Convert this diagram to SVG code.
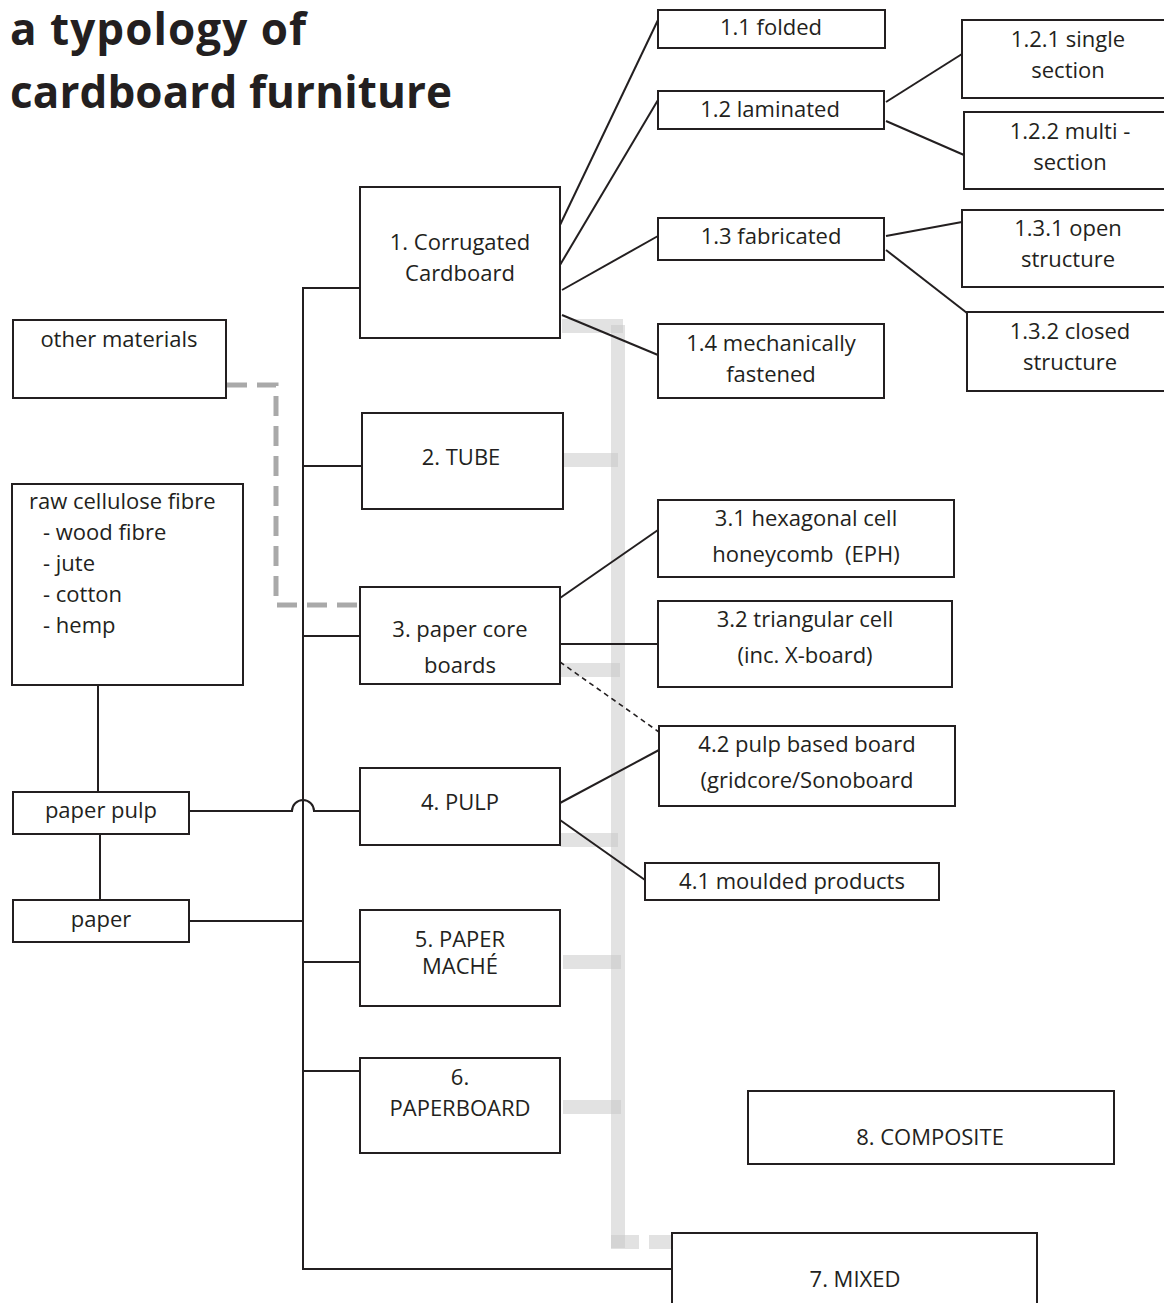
<svg xmlns="http://www.w3.org/2000/svg" width="1164" height="1303" viewBox="0 0 1164 1303">
<style>
  .box { fill: #fff; stroke: #231f20; stroke-width: 2; }
  .t { font-family: "Open Sans", "Liberation Sans", sans-serif; font-size: 22px; fill: #231f20; text-anchor: middle; }
  .tl { font-family: "Open Sans", "Liberation Sans", sans-serif; font-size: 22px; fill: #231f20; }
  .title { font-family: "Open Sans", "Liberation Sans", sans-serif; font-size: 44px; font-weight: bold; fill: #231f20; }
  .ln { fill: none; stroke: #231f20; stroke-width: 2; }
  .dash { fill: none; stroke: #231f20; stroke-width: 1.6; stroke-dasharray: 5 4; }
  .gdash { fill: none; stroke: #a9a9a9; stroke-width: 5; stroke-dasharray: 20 10; }
  .gray { fill: none; stroke: #c6c6c6; stroke-opacity: 0.5; stroke-width: 14; }
</style>

<g id="title">
  <text class="title" x="10" y="45" textLength="296" lengthAdjust="spacing">a typology of</text>
  <text class="title" x="10" y="108" textLength="442" lengthAdjust="spacing">cardboard furniture</text>
</g>

<g id="connectors">
  <!-- gray band -->
  <path class="gray" d="M618 325 V1248"/>
  <path class="gray" d="M562 326 H623"/>
  <path class="gray" d="M563 460 H618"/>
  <path class="gray" d="M560 670 H620"/>
  <path class="gray" d="M560 840 H618"/>
  <path class="gray" d="M563 962 H621"/>
  <path class="gray" d="M563 1107 H621"/>
  <path class="gray" d="M611 1242 H639 M649 1242 H677" stroke-width="18"/>
  <!-- gray dashed from other materials -->
  <path class="gdash" d="M227 385 H276 V605 H360"/>
  <!-- trunk -->
  <path class="ln" d="M360 288 H303 V1269 H672"/>
  <path class="ln" d="M303 466 H362"/>
  <path class="ln" d="M303 636 H360"/>
  <path class="ln" d="M303 962 H360"/>
  <path class="ln" d="M303 1071 H360"/>
  <path class="ln" d="M189 921 H303"/>
  <path class="ln" d="M189 811 H292 A11 11 0 0 1 314 811 H360"/>
  <path class="ln" d="M98 685 V792"/>
  <path class="ln" d="M100 834 V900"/>
  <!-- branch 1 -->
  <path class="ln" d="M560 225 L658 20"/>
  <path class="ln" d="M560 265 L658 100"/>
  <path class="ln" d="M562 290 L658 236"/>
  <path class="ln" d="M562 315 L658 355"/>
  <path class="ln" d="M886 102 L962 54"/>
  <path class="ln" d="M886 121 L964 155"/>
  <path class="ln" d="M886 236 L962 222"/>
  <path class="ln" d="M886 250 L967 313"/>
  <!-- branch 3/4 -->
  <path class="ln" d="M560 598 L658 530"/>
  <path class="ln" d="M560 644 H658"/>
  <path class="dash" d="M560 662 L659 732"/>
  <path class="ln" d="M560 803 L659 750"/>
  <path class="ln" d="M560 820 L645 880"/>
</g>

<g id="n1-1"><rect class="box" x="658" y="10" width="227" height="38"/><text class="t" x="771" y="35">1.1 folded</text></g>
<g id="n1-2"><rect class="box" x="658" y="91" width="226" height="38"/><text class="t" x="770" y="117">1.2 laminated</text></g>
<g id="n1-2-1"><rect class="box" x="962" y="20" width="206" height="78"/><text class="t" x="1068" y="47">1.2.1 single</text><text class="t" x="1068" y="78">section</text></g>
<g id="n1-2-2"><rect class="box" x="964" y="112" width="204" height="77"/><text class="t" x="1070" y="139">1.2.2 multi -</text><text class="t" x="1070" y="170">section</text></g>
<g id="n1-3"><rect class="box" x="658" y="218" width="226" height="42"/><text class="t" x="771" y="244">1.3 fabricated</text></g>
<g id="n1-3-1"><rect class="box" x="962" y="210" width="206" height="77"/><text class="t" x="1068" y="236">1.3.1 open</text><text class="t" x="1068" y="267">structure</text></g>
<g id="n1-3-2"><rect class="box" x="967" y="312" width="201" height="79"/><text class="t" x="1070" y="339">1.3.2 closed</text><text class="t" x="1070" y="370">structure</text></g>
<g id="n1-4"><rect class="box" x="658" y="324" width="226" height="74"/><text class="t" x="771" y="351">1.4 mechanically</text><text class="t" x="771" y="382">fastened</text></g>
<g id="n1"><rect class="box" x="360" y="187" width="200" height="151"/><text class="t" x="460" y="250">1. Corrugated</text><text class="t" x="460" y="281">Cardboard</text></g>
<g id="other"><rect class="box" x="13" y="320" width="213" height="78"/><text class="t" x="119" y="347">other materials</text></g>
<g id="n2"><rect class="box" x="362" y="413" width="201" height="96"/><text class="t" x="461" y="465">2. TUBE</text></g>
<g id="raw"><rect class="box" x="12" y="484" width="231" height="201"/>
  <text class="tl" x="29" y="509">raw cellulose fibre</text>
  <text class="tl" x="43" y="540">- wood fibre</text>
  <text class="tl" x="43" y="571">- jute</text>
  <text class="tl" x="43" y="602">- cotton</text>
  <text class="tl" x="43" y="633">- hemp</text>
</g>
<g id="n3"><rect class="box" x="360" y="587" width="200" height="97"/><text class="t" x="460" y="637">3. paper core</text><text class="t" x="460" y="673">boards</text></g>
<g id="n3-1"><rect class="box" x="658" y="500" width="296" height="77"/><text class="t" x="806" y="526">3.1 hexagonal cell</text><text class="t" x="806" y="562" xml:space="preserve">honeycomb  (EPH)</text></g>
<g id="n3-2"><rect class="box" x="658" y="601" width="294" height="86"/><text class="t" x="805" y="627">3.2 triangular cell</text><text class="t" x="805" y="663">(inc. X-board)</text></g>
<g id="n4-2"><rect class="box" x="659" y="726" width="296" height="80"/><text class="t" x="807" y="752">4.2 pulp based board</text><text class="t" x="807" y="788">(gridcore/Sonoboard</text></g>
<g id="pulp"><rect class="box" x="13" y="792" width="176" height="42"/><text class="t" x="101" y="818">paper pulp</text></g>
<g id="n4"><rect class="box" x="360" y="768" width="200" height="77"/><text class="t" x="460" y="810">4. PULP</text></g>
<g id="n4-1"><rect class="box" x="645" y="863" width="294" height="37"/><text class="t" x="792" y="889">4.1 moulded products</text></g>
<g id="paper"><rect class="box" x="13" y="900" width="176" height="42"/><text class="t" x="101" y="927">paper</text></g>
<g id="n5"><rect class="box" x="360" y="910" width="200" height="96"/><text class="t" x="460" y="947">5. PAPER</text><text class="t" x="460" y="974">MACHÉ</text></g>
<g id="n6"><rect class="box" x="360" y="1058" width="200" height="95"/><text class="t" x="460" y="1085">6.</text><text class="t" x="460" y="1116">PAPERBOARD</text></g>
<g id="n8"><rect class="box" x="748" y="1091" width="366" height="73"/><text class="t" x="930" y="1145">8. COMPOSITE</text></g>
<g id="n7"><rect class="box" x="672" y="1233" width="365" height="90"/><text class="t" x="855" y="1287">7. MIXED</text></g>
</svg>
